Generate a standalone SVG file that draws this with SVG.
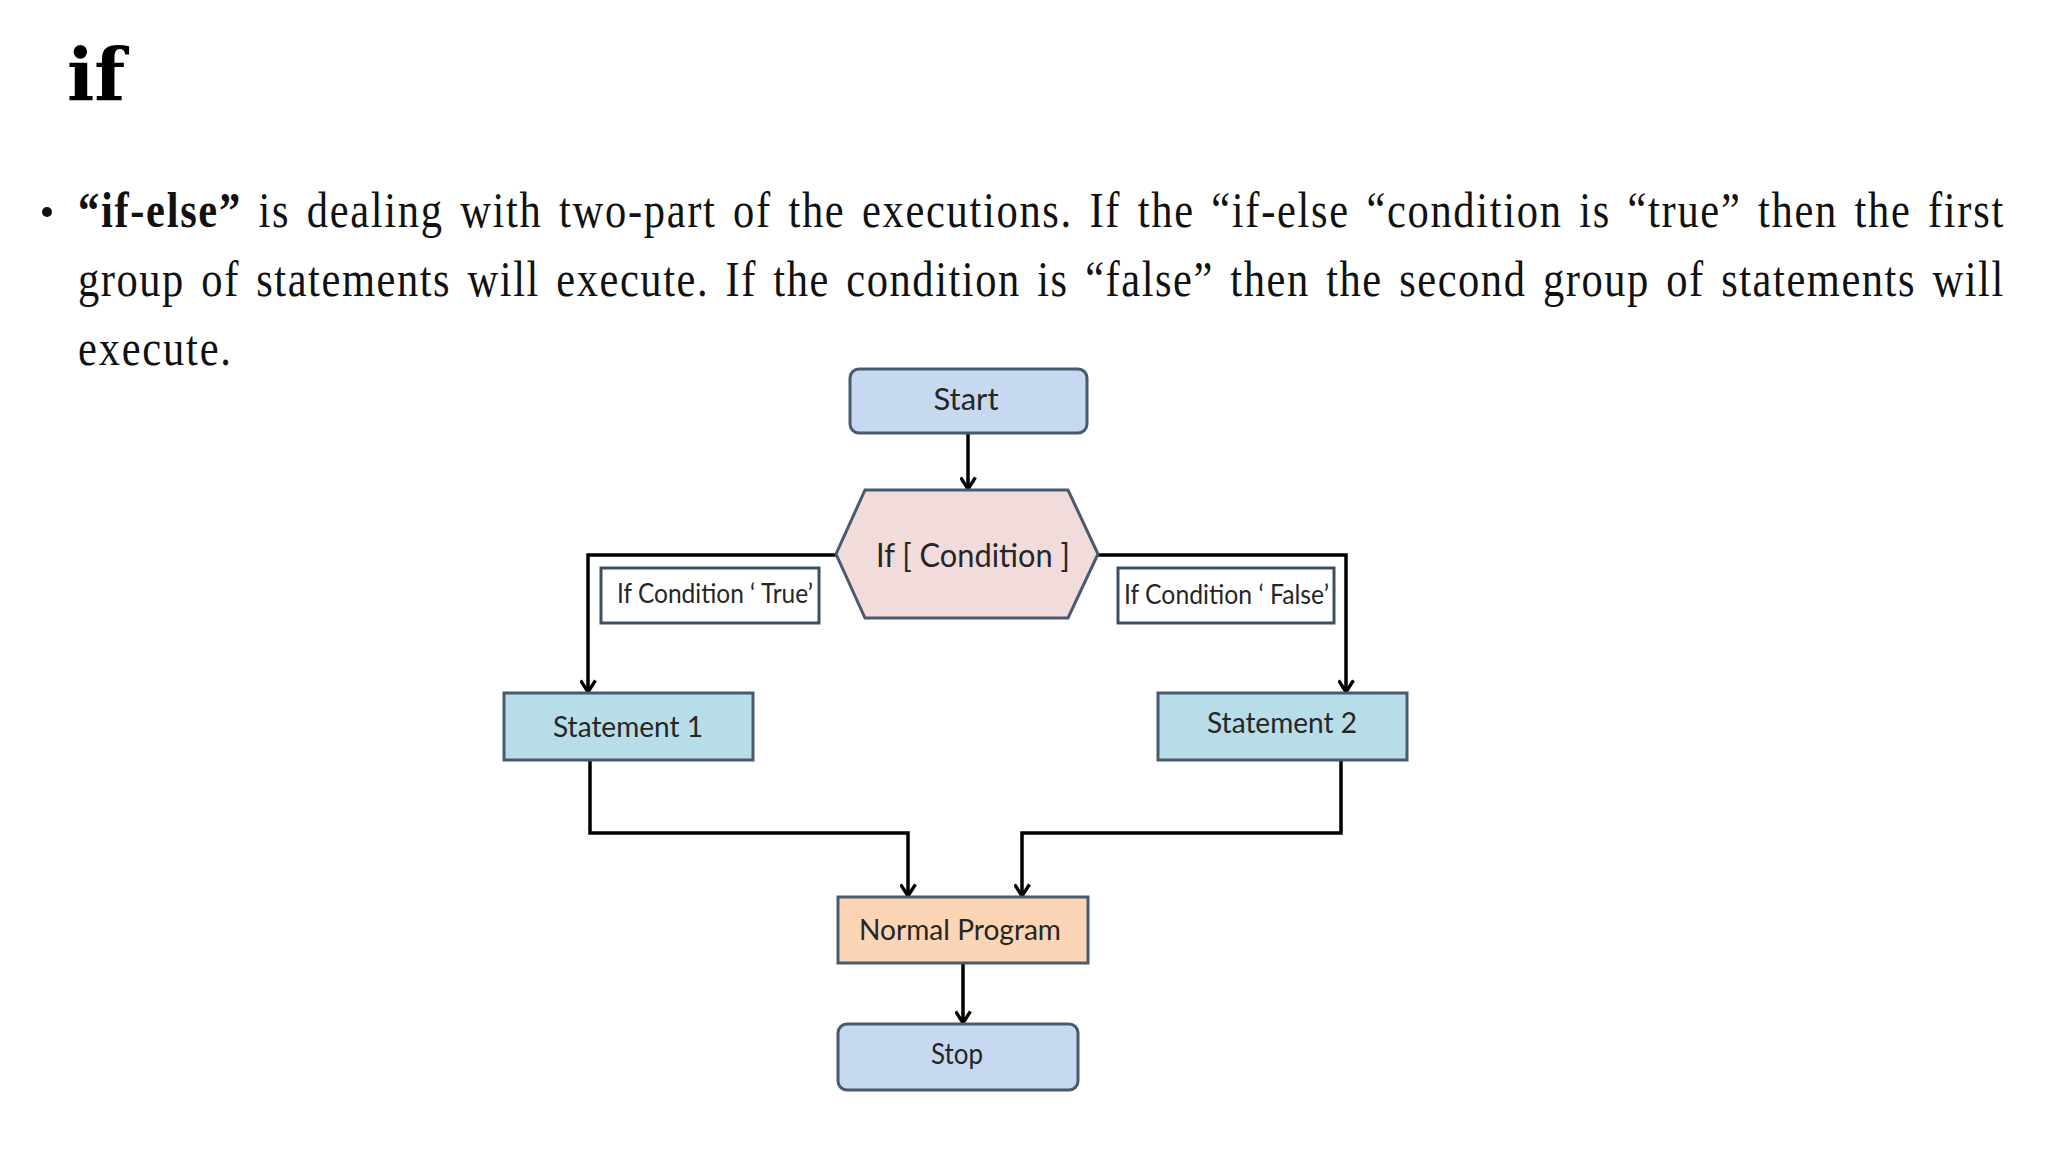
<svg xmlns="http://www.w3.org/2000/svg" width="2048" height="1152" viewBox="0 0 2048 1152">
<style>
.body{font-family:"Liberation Serif","Times New Roman",serif;font-size:50px;fill:#111;word-spacing:5px}
.lbl{font-family:Lato,"Open Sans",sans-serif;fill:#262626;text-anchor:middle}
.term{fill:#c6d9f1;stroke:#4a5a6e;stroke-width:3}
.stmt{fill:#b7dde8;stroke:#4a5a6e;stroke-width:3}
.cond{fill:#f2dcdb;stroke:#4a5a6e;stroke-width:3}
.norm{fill:#fbd5b5;stroke:#4a5a6e;stroke-width:3}
.tag{fill:#ffffff;stroke:#3f4f63;stroke-width:3}
.tagt{font-family:Lato,"Open Sans",sans-serif;font-size:26px;fill:#262626}
.conn{fill:none;stroke:#000;stroke-width:3.5}
</style>
<defs>
<marker id="arr" viewBox="0 0 16 16" refX="13" refY="8" markerWidth="17" markerHeight="17" markerUnits="userSpaceOnUse" orient="auto">
<path d="M2,1 L13,8 L2,15" fill="none" stroke="#000" stroke-width="3.2"/>
</marker>
</defs>
<rect width="2048" height="1152" fill="#ffffff"/>

<g id="title">
<text x="67" y="101" font-family="'DejaVu Serif',serif" font-weight="bold" font-size="72" fill="#000">if</text>
</g>

<g id="bullet-text">
<circle cx="47" cy="212" r="5" fill="#111"/>
<text class="body" transform="translate(78,227) scale(0.85,1)" x="0" y="0" textLength="2265" lengthAdjust="spacing"><tspan font-weight="bold">“if-else”</tspan> is dealing with two-part of the executions. If the “if-else “condition is “true” then the first</text>
<text class="body" transform="translate(78,296) scale(0.85,1)" x="0" y="0" textLength="2265" lengthAdjust="spacing">group of statements will execute. If the condition is “false” then the second group of statements will</text>
<text class="body" transform="translate(78,365) scale(0.85,1)" x="0" y="0" textLength="180" lengthAdjust="spacing">execute.</text>
</g>

<g id="connectors">
<path class="conn" d="M968,434 V489" marker-end="url(#arr)"/>
<path class="conn" d="M837,555 H588 V692" marker-end="url(#arr)"/>
<path class="conn" d="M1097,555 H1346 V692" marker-end="url(#arr)"/>
<path class="conn" d="M590,760 V833 H908 V896" marker-end="url(#arr)"/>
<path class="conn" d="M1341,760 V833 H1022 V896" marker-end="url(#arr)"/>
<path class="conn" d="M963,963 V1023" marker-end="url(#arr)"/>
</g>

<g id="start">
<rect class="term" x="850" y="369" width="237" height="64" rx="9"/>
<text class="lbl" x="966" y="410" font-size="30" textLength="65" lengthAdjust="spacingAndGlyphs">Start</text>
</g>

<g id="condition">
<polygon class="cond" points="865,490 1068,490 1098,554 1068,618 865,618 836,554"/>
<text class="lbl" x="973" y="567" font-size="33" textLength="194" lengthAdjust="spacingAndGlyphs">If [ Condition ]</text>
</g>

<g id="label-true">
<rect class="tag" x="601" y="568" width="218" height="55"/>
<text class="tagt" x="617" y="603" textLength="196" lengthAdjust="spacingAndGlyphs">If Condition ‘ True’</text>
</g>

<g id="label-false">
<rect class="tag" x="1118" y="568" width="216" height="55"/>
<text class="tagt" x="1124" y="604" textLength="205" lengthAdjust="spacingAndGlyphs">If Condition ‘ False’</text>
</g>

<g id="statement1">
<rect class="stmt" x="504" y="693" width="249" height="67"/>
<text class="lbl" x="628" y="737" font-size="28" textLength="150" lengthAdjust="spacingAndGlyphs">Statement 1</text>
</g>

<g id="statement2">
<rect class="stmt" x="1158" y="693" width="249" height="67"/>
<text class="lbl" x="1282" y="733" font-size="28" textLength="150" lengthAdjust="spacingAndGlyphs">Statement 2</text>
</g>

<g id="normal-program">
<rect class="norm" x="838" y="897" width="250" height="66"/>
<text class="lbl" x="960" y="940" font-size="28" textLength="202" lengthAdjust="spacingAndGlyphs">Normal Program</text>
</g>

<g id="stop">
<rect class="term" x="838" y="1024" width="240" height="66" rx="9"/>
<text class="lbl" x="957" y="1064" font-size="28" textLength="52" lengthAdjust="spacingAndGlyphs">Stop</text>
</g>
</svg>
